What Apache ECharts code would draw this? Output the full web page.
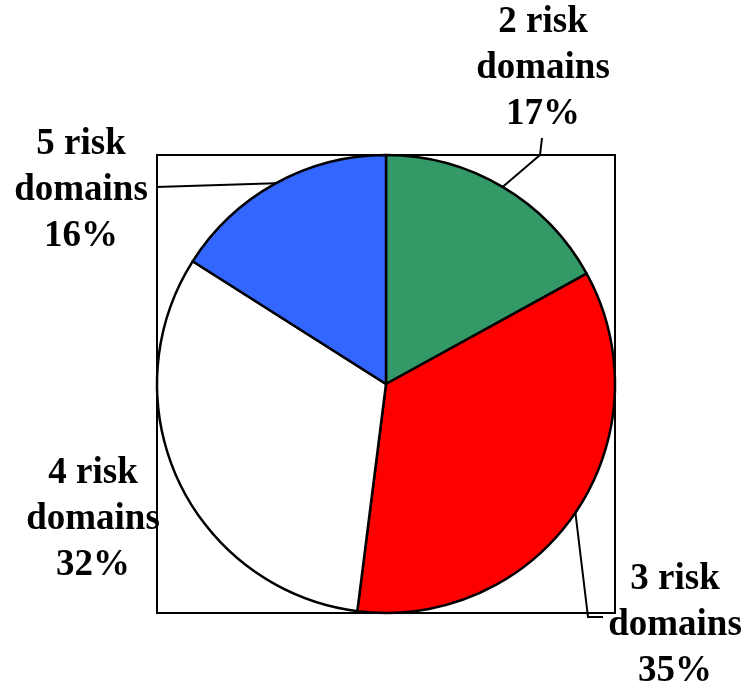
<!DOCTYPE html>
<html>
<head>
<meta charset="utf-8">
<script src="https://cdn.jsdelivr.net/npm/echarts@6/dist/echarts.min.js"></script>
<style>
  html, body { margin: 0; padding: 0; background: #fff; }
  #chart { width: 746px; height: 685px; }
</style>
</head>
<body>
<div id="chart"></div>
<script>
// Share of cases by number of risk domains
const categories = ['2 risk domains', '3 risk domains', '4 risk domains', '5 risk domains'];
const shares = [17, 35, 32, 16];
const colors = ['#339966', '#ff0000', '#ffffff', '#3366ff'];

// Where each label block sits and how its leader line bends
const labelSpots = [
  { x: 543, y: 68, bend: [[540, 155], [542, 138]] },
  { x: 675, y: 625, bend: [[588, 617], [603, 617]] },
  { x: 93, y: 519, bend: null },
  { x: 81, y: 190, bend: [[156, 187]] }
];

const cx = 386, cy = 384, r = 229;

const chart = echarts.init(document.getElementById('chart'), null, { renderer: 'canvas' });

chart.setOption({
  backgroundColor: '#ffffff',
  animation: false,
  graphic: [{
    type: 'rect',
    z: 0,
    shape: { x: cx - r, y: cy - r, width: 2 * r, height: 2 * r },
    style: { fill: 'none', stroke: '#000', lineWidth: 2 }
  }],
  series: [{
    type: 'pie',
    z: 2,
    center: [cx, cy],
    radius: r,
    startAngle: 90,
    clockwise: true,
    avoidLabelOverlap: false,
    itemStyle: { borderColor: '#000', borderWidth: 2.5 },
    emphasis: { disabled: true },
    label: {
      show: true,
      position: 'outside',
      fontFamily: '"Liberation Serif", "Times New Roman", serif',
      fontWeight: 'bold',
      fontSize: 37,
      lineHeight: 46,
      color: '#000',
      align: 'center',
      formatter: p => p.name.replace(' domains', '\ndomains') + '\n' + p.value + '%'
    },
    labelLine: { show: true, lineStyle: { color: '#000', width: 2 } },
    labelLayout: function (params) {
      const spot = labelSpots[params.dataIndex];
      const out = { x: spot.x, y: spot.y, align: 'center', verticalAlign: 'middle' };
      if (spot.bend && params.labelLinePoints) {
        out.labelLinePoints = [params.labelLinePoints[0]].concat(spot.bend);
      }
      return out;
    },
    data: categories.map((name, i) => ({
      name: name,
      value: shares[i],
      itemStyle: { color: colors[i] },
      labelLine: { show: labelSpots[i].bend !== null }
    }))
  }]
});
</script>
</body>
</html>
